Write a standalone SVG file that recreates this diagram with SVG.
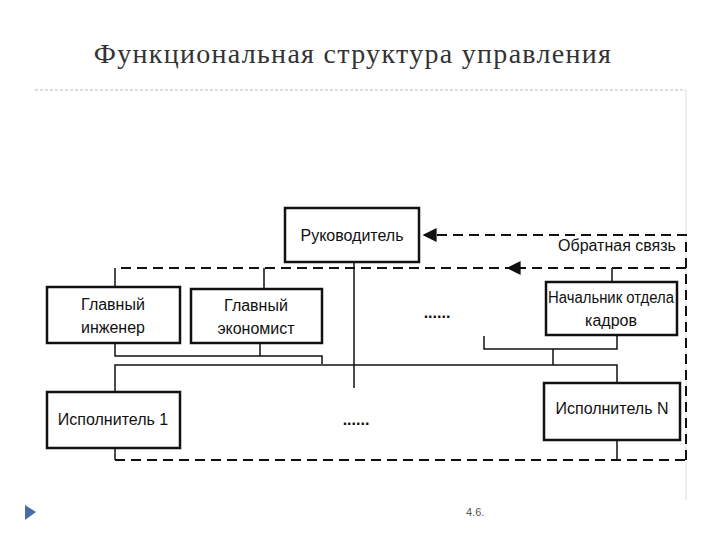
<svg xmlns="http://www.w3.org/2000/svg" width="720" height="540" viewBox="0 0 720 540">
<defs>
<style>
.b{fill:#fff;stroke:#111;stroke-width:2.5}
.l{fill:none;stroke:#111;stroke-width:1.5}
.d{fill:none;stroke:#111;stroke-width:2;stroke-dasharray:10,6}
.t{font-family:"Liberation Sans",Arial,sans-serif;font-size:16px;fill:#111;text-anchor:middle}
</style>
<marker id="a" viewBox="0 0 10 10" refX="9" refY="5" markerWidth="7" markerHeight="7" orient="auto"><path d="M0,0L10,5L0,10z" fill="#111"/></marker>
</defs>
<rect width="720" height="540" fill="#fff"/>
<text x="353" y="63" font-family="Liberation Serif,serif" font-size="28" fill="#333" text-anchor="middle" letter-spacing="1.3">Функциональная структура управления</text>
<line x1="35" y1="90" x2="686" y2="90" stroke="#bbb" stroke-dasharray="3,2"/>
<line x1="686" y1="90" x2="686" y2="500" stroke="#ddd"/>
<g id="connectors">
<path class="d" d="M686,460V235H424" marker-end="url(#a)"/>
<path class="d" d="M686,268H508" marker-end="url(#a)"/>
<path class="d" d="M515,268H115"/>
<path class="l" d="M115,268V287M264,268V289M612,268V282"/>
<path class="l" d="M354,262V388"/>
<path class="l" d="M115,343V356H322V364M260,343V356"/>
<path class="l" d="M617,335V349H484V336M553,349V365"/>
<path class="l" d="M115,392V365H617V383"/>
<path class="d" d="M115,460H686"/>
<path class="l" d="M115,448V460M617,440V460"/>
</g>
<g id="n1"><rect class="b" x="285" y="208" width="134" height="54"/><text class="t" x="352" y="241">Руководитель</text></g>
<g id="n2"><rect class="b" x="47" y="287" width="133" height="56"/><text class="t" x="113" y="310">Главный</text><text class="t" x="113" y="333">инженер</text></g>
<g id="n3"><rect class="b" x="191" y="289" width="131" height="54"/><text class="t" x="256" y="311">Главный</text><text class="t" x="256" y="334">экономист</text></g>
<g id="n4"><rect class="b" x="546" y="282" width="131" height="53"/><text class="t" x="611" y="303" textLength="126" lengthAdjust="spacingAndGlyphs">Начальник отдела</text><text class="t" x="611" y="326">кадров</text></g>
<g id="n5"><rect class="b" x="47" y="392" width="133" height="56"/><text class="t" x="113" y="425">Исполнитель 1</text></g>
<g id="n6"><rect class="b" x="544" y="383" width="136" height="57"/><text class="t" x="612" y="414">Исполнитель N</text></g>
<text class="t" x="617" y="251">Обратная связь</text>
<text class="t" x="437" y="318" font-size="20" font-weight="bold">......</text>
<text class="t" x="356" y="425" font-size="20" font-weight="bold">......</text>
<text x="466" y="516" font-family="Liberation Sans,sans-serif" font-size="11" fill="#555">4.6.</text>
<path d="M25,505L36,512L25,520z" fill="#4a6da8"/>
</svg>
